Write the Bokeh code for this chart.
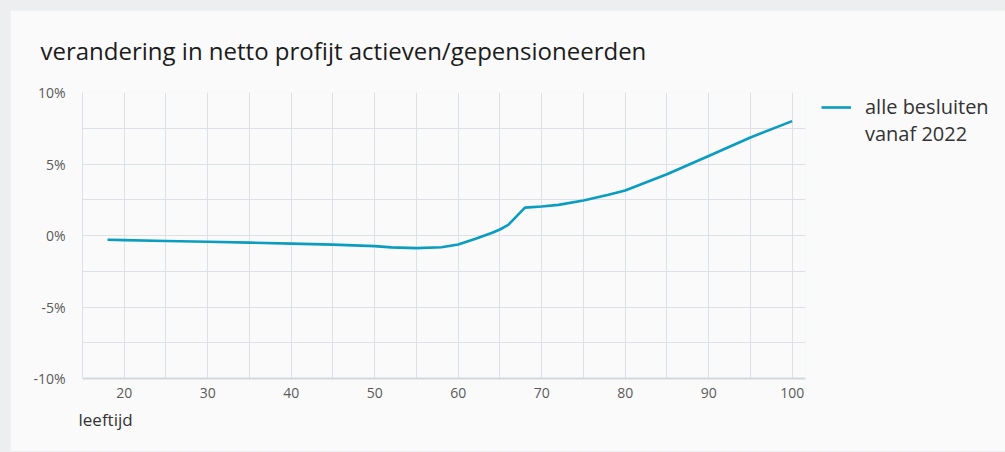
from bokeh.plotting import figure
from bokeh.models import FixedTicker, PrintfTickFormatter, Legend, LegendItem, Title, GlobalInlineStyleSheet
from bokeh.embed import file_html
from bokeh.resources import INLINE

# ---- data ----
ages = [18, 20, 25, 30, 35, 40, 45, 50, 52, 55, 58, 60, 62, 64, 65, 66, 68, 70, 72, 75, 78, 80, 85, 90, 95, 100]
values = [-0.30, -0.32, -0.38, -0.44, -0.50, -0.57, -0.64, -0.74, -0.83, -0.88, -0.82, -0.63, -0.25, 0.18, 0.42,
          0.74, 1.95, 2.03, 2.14, 2.45, 2.85, 3.15, 4.28, 5.56, 6.85, 8.0]
series_label_1 = "alle besluiten"
series_label_2 = "vanaf 2022"
x_ticks = [20, 30, 40, 50, 60, 70, 80, 90, 100]
x_minor = [15, 25, 35, 45, 55, 65, 75, 85, 95]
y_ticks = [-10, -5, 0, 5, 10]
y_minor = [-7.5, -2.5, 2.5, 7.5]
title_text = "verandering in netto profijt actieven/gepensioneerden"
x_label = "leeftijd"

FONT = "Open Sans"
CARD = "#fafafa"
GRID = "#dde1e5"
LINE = "#0a9dc1"

FW, FH = 723, 286

p = figure(frame_width=FW, frame_height=FH, x_range=(15, 101.6), y_range=(-10, 10),
           output_backend="svg", toolbar_location=None,
           min_border_left=72, min_border_right=200, min_border_top=82, min_border_bottom=73)
p.stylesheets = [GlobalInlineStyleSheet(
    css="html,body{background:#eceef0;overflow:hidden;} body{padding:10px 0 0 10px !important;}")]
p.background_fill_color = CARD
p.border_fill_color = CARD
p.outline_line_color = None

p.title.text = title_text
p.title.text_font = FONT
p.title.text_font_size = "24px"
p.title.text_font_style = "normal"
p.title.text_color = "#1c1c1c"
p.title.align = "left"
p.title.offset = -42
p.title.standoff = 47
p.title.vertical_align = "top"

# axes
p.xaxis.ticker = FixedTicker(ticks=x_ticks, minor_ticks=x_minor)
p.yaxis.ticker = FixedTicker(ticks=y_ticks, minor_ticks=y_minor)
p.yaxis.formatter = PrintfTickFormatter(format="%d%%")
for ax in (p.xaxis[0], p.yaxis[0]):
    ax.major_tick_line_color = None
    ax.minor_tick_line_color = None
    ax.major_label_text_font = FONT
    ax.major_label_text_font_size = "14px"
    ax.major_label_text_color = "#5a5a5a"
p.xaxis.axis_line_color = "#d3d8dd"
p.xaxis.axis_line_width = 2
p.yaxis.axis_line_color = GRID
p.xaxis.major_label_standoff = 3
p.yaxis.major_label_standoff = 11

p.xgrid.grid_line_color = GRID
p.xgrid.minor_grid_line_color = GRID
p.ygrid.grid_line_color = GRID
p.ygrid.minor_grid_line_color = GRID

p.add_layout(Title(text=x_label, align="left", offset=-4, text_font=FONT, text_font_size="17px",
                   text_font_style="normal", text_color="#333333", standoff=10), "below")

r1 = p.line(ages, values, line_color=LINE, line_width=2.6)
r2 = p.line(ages[:1], values[:1], line_alpha=0)

legend = Legend(items=[LegendItem(label=series_label_1, renderers=[r1]),
                       LegendItem(label=series_label_2, renderers=[r2])],
                location=(16, FH - 3 - 52), orientation="vertical",
                glyph_width=30, glyph_height=26, label_height=26, label_standoff=14,
                spacing=0, padding=0, margin=0,
                label_text_font=FONT, label_text_font_size="20px", label_text_color="#333333",
                background_fill_alpha=0, border_line_color=None)
p.add_layout(legend, "right")

open("out.html", "w").write(file_html(p, INLINE))
